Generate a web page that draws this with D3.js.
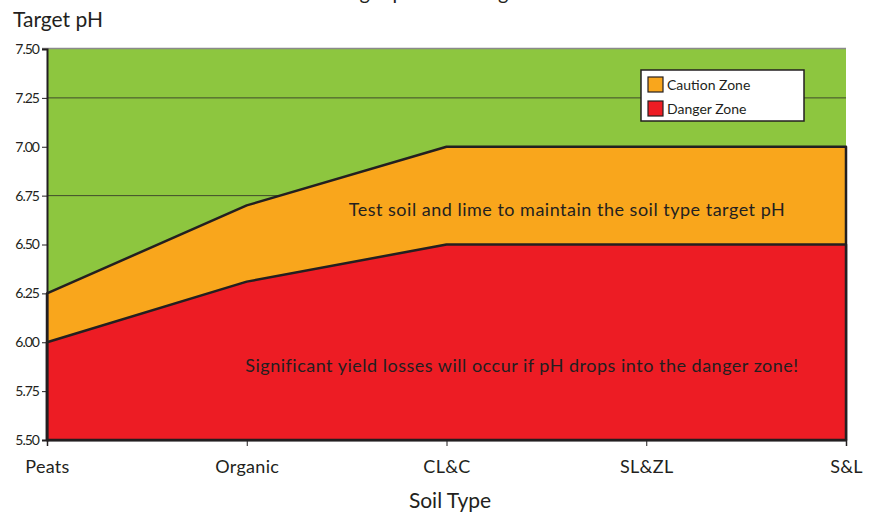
<!DOCTYPE html>
<html>
<head>
<meta charset="utf-8">
<script src="https://cdn.jsdelivr.net/npm/d3@7"></script>
<style>
  body { margin: 0; background: #fff; }
  svg text { font-family: "Lato", "DejaVu Sans", sans-serif; fill: #231f20; }
</style>
</head>
<body>
<div id="chart"></div>
<script>
// soil types along the x axis
var soilTypes = ["Peats", "Organic", "CL&C", "SL&ZL", "S&L"];
// upper edge of the caution zone (orange)
var cautionTop = [6.25, 6.70, 7.00, 7.00, 7.00];
// upper edge of the danger zone (red)
var dangerTop = [6.00, 6.31, 6.50, 6.50, 6.50];
// y tick labels
var yTicks = [5.50, 5.75, 6.00, 6.25, 6.50, 6.75, 7.00, 7.25, 7.50];
var gridValues = [7.25, 6.75];
var legendNames = ["Caution Zone", "Danger Zone"];
var legendColors = ["#f9a61c", "#ed1c24"];

var width = 876, height = 514;
var svg = d3.select("#chart").append("svg")
    .attr("width", width)
    .attr("height", height);

var x = d3.scalePoint().domain(soilTypes).range([47, 846]);
var y = d3.scaleLinear().domain([5.5, 7.5]).range([440, 49]);

// title, cut off at the top edge like the original
svg.append("text")
    .attr("x", 333)
    .attr("y", 0)
    .style("font-size", "20px")
    .text("Target pH according to soil");

// green background zone
svg.append("rect")
    .attr("x", x("Peats"))
    .attr("y", y(7.5))
    .attr("width", x("S&L") - x("Peats"))
    .attr("height", y(5.5) - y(7.5))
    .attr("fill", "#8dc63f");

// grid lines
svg.selectAll(".grid").data(gridValues).enter().append("line")
    .attr("x1", x("Peats")).attr("x2", x("S&L"))
    .attr("y1", function(d) { return y(d); })
    .attr("y2", function(d) { return y(d); })
    .attr("stroke", "#3f4a2c").attr("stroke-width", 1);

// top border
svg.append("line")
    .attr("x1", x("Peats") - 5).attr("x2", x("S&L"))
    .attr("y1", y(7.5) - 0.5).attr("y2", y(7.5) - 0.5)
    .attr("stroke", "#8a8a8a").attr("stroke-width", 1.5);

var rows = soilTypes.map(function(s, i) {
    return { soil: s, caution: cautionTop[i], danger: dangerTop[i] };
});

function zone(key) {
    return d3.area()
        .x(function(d) { return x(d.soil); })
        .y0(y(5.5))
        .y1(function(d) { return y(d[key]); });
}

svg.append("path").datum(rows)
    .attr("d", zone("caution"))
    .attr("fill", "#f9a61c")
    .attr("stroke", "#231f20").attr("stroke-width", 2.5)
    .attr("stroke-linejoin", "round");

svg.append("path").datum(rows)
    .attr("d", zone("danger"))
    .attr("fill", "#ed1c24")
    .attr("stroke", "#231f20").attr("stroke-width", 2.5)
    .attr("stroke-linejoin", "round");

// zone notes
svg.append("text")
    .attr("x", 567).attr("y", 216)
    .attr("text-anchor", "middle")
    .style("font-size", "18px")
    .style("letter-spacing", "0.5px")
    .text("Test soil and lime to maintain the soil type target pH");

svg.append("text")
    .attr("x", 522).attr("y", 372)
    .attr("text-anchor", "middle")
    .style("font-size", "18px")
    .style("letter-spacing", "0.5px")
    .text("Significant yield losses will occur if pH drops into the danger zone!");

// axes
var yAxis = d3.axisLeft(y).tickValues(yTicks).tickSize(5).tickFormat(d3.format(".2f"));
var gy = svg.append("g").attr("transform", "translate(" + x("Peats") + ",0)").call(yAxis);
gy.select(".domain").attr("stroke", "#231f20").attr("stroke-width", 2);
gy.selectAll(".tick line").attr("stroke", "#231f20");
gy.selectAll(".tick text")
    .attr("x", -8)
    .style("font-size", "14px")
    .style("letter-spacing", "-1px")
    .attr("fill", "#231f20");

var xAxis = d3.axisBottom(x).tickSize(6).tickPadding(14);
var gx = svg.append("g").attr("transform", "translate(0," + y(5.5) + ")").call(xAxis);
gx.select(".domain").attr("stroke", "#231f20").attr("stroke-width", 1.5);
gx.selectAll(".tick line").attr("stroke", "#231f20");
gx.selectAll(".tick text")
    .style("font-size", "18px")
    .style("letter-spacing", "0.3px")
    .attr("fill", "#231f20");

// axis titles
svg.append("text")
    .attr("x", 13).attr("y", 27)
    .style("font-size", "21px")
    .text("Target pH");

svg.append("text")
    .attr("x", 450).attr("y", 508)
    .attr("text-anchor", "middle")
    .style("font-size", "21px")
    .text("Soil Type");

// legend
var legend = svg.append("g").attr("transform", "translate(641,70)");
legend.append("rect")
    .attr("width", 163).attr("height", 51)
    .attr("fill", "#fff")
    .attr("stroke", "#231f20").attr("stroke-width", 1.5);
var items = legend.selectAll(".item").data(legendNames).enter().append("g")
    .attr("transform", function(d, i) { return "translate(7," + (7 + i * 24) + ")"; });
items.append("rect")
    .attr("width", 15).attr("height", 15)
    .attr("fill", function(d, i) { return legendColors[i]; })
    .attr("stroke", "#231f20").attr("stroke-width", 1.2);
items.append("text")
    .attr("x", 19).attr("y", 13)
    .style("font-size", "14px")
    .text(function(d) { return d; });
</script>
</body>
</html>
